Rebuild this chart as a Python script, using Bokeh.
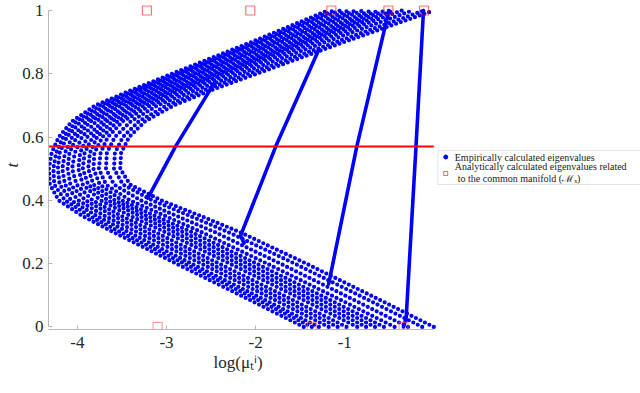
import numpy as np
from bokeh.plotting import figure
from bokeh.models import BoxAnnotation, FixedTicker, Label, Title
from bokeh.embed import file_html
from bokeh.resources import INLINE

# ---------------- data ----------------
t_grid = [0.0, 0.1, 0.2, 0.3, 0.35, 0.4, 0.45, 0.5, 0.55, 0.6, 0.65, 0.7, 0.75, 0.8, 0.9, 1.0]

# log eigenvalue of each empirical eigenvalue trace at the t values of t_grid
fan_01 = [-1.46, -2.17, -2.89, -3.60, -3.94, -4.21, -4.31, -4.32, -4.29, -4.21, -4.06, -3.80, -3.38, -2.94, -2.05, -1.19]
fan_02 = [-1.37, -2.08, -2.80, -3.52, -3.86, -4.14, -4.26, -4.27, -4.24, -4.16, -4.01, -3.75, -3.33, -2.88, -1.99, -1.12]
fan_03 = [-1.29, -2.00, -2.72, -3.43, -3.78, -4.07, -4.20, -4.22, -4.20, -4.12, -3.96, -3.69, -3.27, -2.83, -1.93, -1.05]
fan_04 = [-1.18, -1.89, -2.61, -3.33, -3.69, -3.99, -4.14, -4.17, -4.14, -4.06, -3.90, -3.63, -3.21, -2.76, -1.85, -0.96]
fan_05 = [-1.08, -1.79, -2.51, -3.23, -3.59, -3.91, -4.08, -4.11, -4.09, -4.01, -3.85, -3.57, -3.15, -2.69, -1.78, -0.88]
fan_06 = [-0.98, -1.69, -2.41, -3.13, -3.50, -3.83, -4.01, -4.06, -4.03, -3.95, -3.79, -3.51, -3.08, -2.63, -1.71, -0.80]
fan_07 = [-0.86, -1.57, -2.29, -3.02, -3.40, -3.74, -3.94, -3.99, -3.97, -3.89, -3.72, -3.44, -3.01, -2.55, -1.62, -0.70]
fan_08 = [-0.76, -1.47, -2.19, -2.92, -3.30, -3.66, -3.88, -3.94, -3.92, -3.83, -3.67, -3.38, -2.95, -2.48, -1.55, -0.62]
fan_09 = [-0.66, -1.37, -2.09, -2.82, -3.21, -3.58, -3.82, -3.88, -3.86, -3.78, -3.61, -3.32, -2.89, -2.42, -1.48, -0.54]
fan_10 = [-0.56, -1.27, -1.99, -2.72, -3.12, -3.50, -3.75, -3.82, -3.81, -3.72, -3.55, -3.25, -2.82, -2.35, -1.41, -0.45]
fan_11 = [-0.44, -1.15, -1.87, -2.61, -3.01, -3.41, -3.68, -3.76, -3.74, -3.66, -3.49, -3.18, -2.75, -2.28, -1.32, -0.36]
fan_12 = [-0.29, -1.00, -1.72, -2.46, -2.88, -3.29, -3.59, -3.68, -3.67, -3.58, -3.40, -3.10, -2.66, -2.18, -1.22, -0.24]
fan_13 = [-0.13, -0.84, -1.56, -2.31, -2.73, -3.16, -3.49, -3.59, -3.58, -3.49, -3.31, -3.00, -2.56, -2.08, -1.10, -0.11]
fan_14 = [0.00, -0.71, -1.43, -2.18, -2.61, -3.06, -3.41, -3.52, -3.51, -3.42, -3.24, -2.92, -2.48, -1.99, -1.01, 0.00]
fan_curves = [fan_01, fan_02, fan_03, fan_04, fan_05, fan_06, fan_07,
              fan_08, fan_09, fan_10, fan_11, fan_12, fan_13, fan_14]

# steep traces of the common-manifold eigenvalues
line_a_x = [-0.34, -0.31, -0.20, -0.116]
line_a_t = [0.0, 0.03, 0.57, 1.0]
line_b_x = [-1.18, -0.865, -0.54, -0.506]
line_b_t = [0.136, 0.57, 0.957, 1.0]
line_c_x = [-2.13, -2.17, -1.775, -1.29]
line_c_t = [0.265, 0.288, 0.57, 0.877]
line_d_x = [-3.21, -2.90, -2.47]
line_d_t = [0.407, 0.57, 0.768]

# analytic eigenvalues (red squares)
top_sq_x = [-3.22, -2.06, -1.15, -0.51, -0.11]
top_sq_t = [1.0, 1.0, 1.0, 1.0, 1.0]
bot_sq_x = [-3.10, -1.37, -0.34]
bot_sq_t = [0.0, 0.0, 0.0]

ref_t = 0.57

x_ticks = [-4, -3, -2, -1]
x_tick_labels = ["-4", "-3", "-2", "-1"]
y_ticks = [0, 0.2, 0.4, 0.6, 0.8, 1]
y_tick_labels = ["0", "0.2", "0.4", "0.6", "0.8", "1"]

x_axis_start, x_axis_end = -4.325, 0.0

# ---------------- figure ----------------
BLUE = "#0000ff"
RED = "#ff0000"
SERIF = "Liberation Serif"
TXT = "#262626"

p = figure(width=640, height=393, output_backend="svg", toolbar_location=None,
           title=None, x_range=(x_axis_start, 2.32), y_range=(-0.008, 1.0316),
           min_border_left=47, min_border_right=0, min_border_top=0,
           min_border_bottom=64)
p.outline_line_color = None
p.grid.visible = False
p.background_fill_color = "white"
p.border_fill_color = "white"

# legend frame (under the glyphs so its markers show)
p.add_layout(BoxAnnotation(left=0.045, right=2.5, top=0.5577, bottom=0.4502,
                           fill_color="white", fill_alpha=1.0,
                           line_color="#a0a0a0", line_width=1, level="underlay"))

# empirical eigenvalue traces (beaded, like densely sampled dots)
p.multi_line(xs=fan_curves, ys=[t_grid] * len(fan_curves), line_color=BLUE,
             line_width=4.2, line_join="round", line_cap="round", line_dash="0 5")
for lx, lt in [(line_a_x, line_a_t), (line_b_x, line_b_t),
               (line_c_x, line_c_t), (line_d_x, line_d_t)]:
    p.line(lx, lt, line_color=BLUE, line_width=3.6, line_join="round", line_cap="round")

# horizontal reference line
p.line([x_axis_start, x_axis_end], [ref_t, ref_t], line_color=RED, line_width=2)

# analytic eigenvalues
p.scatter(top_sq_x, top_sq_t, marker="square", size=9, fill_color=None,
          line_color=RED, line_alpha=0.55, line_width=1.2)
p.scatter(bot_sq_x, bot_sq_t, marker="square", size=9, fill_color=None,
          line_color="#ff6060", line_alpha=0.6, line_width=1.2)

# axes
for ax in (p.xaxis, p.yaxis):
    ax.axis_line_color = "#b8b8b8"
    ax.major_tick_line_color = "#b8b8b8"
    ax.minor_tick_line_color = None
    ax.major_tick_in = 4
    ax.major_tick_out = 0
    ax.major_label_text_font = SERIF
    ax.major_label_text_font_size = "17px"
    ax.major_label_text_color = TXT
    ax.major_label_standoff = 5

p.xaxis.ticker = FixedTicker(ticks=x_ticks)
p.xaxis.major_label_overrides = dict(zip(x_ticks, x_tick_labels))
p.xaxis.bounds = (x_axis_start, x_axis_end)
p.xaxis.major_label_standoff = 7

p.yaxis.ticker = FixedTicker(ticks=y_ticks)
p.yaxis.major_label_overrides = dict(zip(y_ticks, y_tick_labels))
p.yaxis.bounds = (0, 1)
p.yaxis.axis_label = "t"
p.yaxis.axis_label_text_font = SERIF
p.yaxis.axis_label_text_font_style = "italic"
p.yaxis.axis_label_text_font_size = "17px"
p.yaxis.axis_label_text_color = TXT
p.yaxis.axis_label_standoff = -3

# x-axis title, centred under the axis line (not under the legend)
p.add_layout(Title(text="log(μₜⁱ)", align="left", offset=165, text_font=SERIF,
                   text_font_size="17px", text_font_style="normal",
                   text_color=TXT, vertical_align="middle", standoff=2), "below")

# legend (drawn by hand so the second entry can wrap)
p.scatter([0.134], [0.537], marker="circle", size=4, color=BLUE)
p.scatter([0.134], [0.485], marker="square", size=4, fill_color=None,
          line_color=RED, line_alpha=0.6)
for ty, tx, txt in [(0.537, 0.235, "Empirically calculated eigenvalues"),
                    (0.5071, 0.235, "Analytically calculated eigenvalues related"),
                    (0.4692, 0.269, "to the common manifold (ℳₓ)")]:
    p.add_layout(Label(x=tx, y=ty, text=txt, text_font=SERIF, text_font_size="10px",
                       text_color="#1a1a1a", text_baseline="middle"))

open("out.html", "w").write(file_html(p, INLINE))
